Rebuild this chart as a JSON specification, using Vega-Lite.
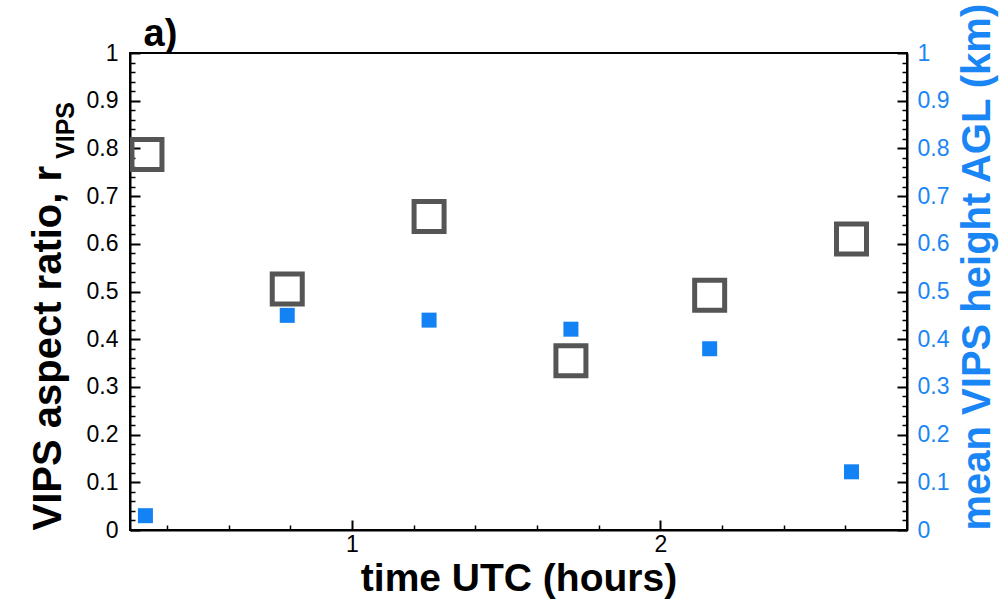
{
  "$schema": "https://vega.github.io/schema/vega-lite/v6.json",
  "width": 777,
  "height": 477,
  "autosize": {"type": "none"},
  "padding": {"left": 130, "top": 53, "right": 100, "bottom": 71},
  "background": "white",
  "config": {
    "font": "Liberation Sans",
    "view": {"stroke": "black", "strokeWidth": 2},
    "axis": {
      "grid": false,
      "domainColor": "black",
      "domainWidth": 2,
      "tickColor": "black",
      "labelColor": "black",
      "labelFont": "Liberation Sans",
      "titleFont": "Liberation Sans",
      "labelFlush": false,
      "labelOverlap": false
    }
  },
  "datasets": {
    "ratio": [
      {"time": 0.335, "ratio": 0.787},
      {"time": 0.79, "ratio": 0.505},
      {"time": 1.25, "ratio": 0.657},
      {"time": 1.71, "ratio": 0.355},
      {"time": 2.16, "ratio": 0.492},
      {"time": 2.62, "ratio": 0.61}
    ],
    "height": [
      {"time": 0.33, "height": 0.03},
      {"time": 0.79, "height": 0.45},
      {"time": 1.25, "height": 0.44},
      {"time": 1.71, "height": 0.421},
      {"time": 2.16, "height": 0.38},
      {"time": 2.62, "height": 0.122}
    ]
  },
  "layer": [
    {
      "data": {"name": "ratio"},
      "mark": {"type": "point", "opacity": 0},
      "encoding": {
        "x": {
          "field": "time", "type": "quantitative",
          "scale": {"domain": [0.28, 2.8], "nice": false, "zero": false},
          "axis": {
            "orient": "bottom",
            "values": [0.4, 0.6, 0.8, 1.2, 1.4, 1.6, 1.8, 2.2, 2.4, 2.6],
            "tickSize": -5, "tickWidth": 1.5, "labels": false, "domain": false, "title": null
          }
        },
        "y": {
          "field": "ratio", "type": "quantitative",
          "scale": {"domain": [0, 1], "nice": false, "zero": false},
          "axis": {
            "orient": "left",
            "values": [0.02,0.04,0.06,0.08,0.12,0.14,0.16,0.18,0.22,0.24,0.26,0.28,0.32,0.34,0.36,0.38,0.42,0.44,0.46,0.48,0.52,0.54,0.56,0.58,0.62,0.64,0.66,0.68,0.72,0.74,0.76,0.78,0.82,0.84,0.86,0.88,0.92,0.94,0.96,0.98],
            "tickSize": -5, "tickWidth": 1.5, "labels": false, "domain": false,
            "title": "VIPS", "titleFontSize": 25, "titleFontWeight": "bold", "titleColor": "black",
            "titleAngle": -90, "titleX": -57, "titleY": 77, "titleAlign": "center", "titleBaseline": "alphabetic"
          }
        }
      }
    },
    {
      "data": {"name": "height"},
      "mark": {"type": "point", "opacity": 0},
      "encoding": {
        "x": {
          "field": "time", "type": "quantitative",
          "scale": {"domain": [0.28, 2.8], "nice": false, "zero": false},
          "axis": {
            "orient": "top", "ticks": false, "labels": false, "domain": false,
            "title": "a)", "titleFontSize": 38, "titleFontWeight": "bold", "titleColor": "black",
            "titleX": 13, "titleY": -8, "titleAlign": "left", "titleBaseline": "alphabetic", "titleAngle": 0
          }
        },
        "y": {
          "field": "height", "type": "quantitative",
          "scale": {"domain": [0, 1], "nice": false, "zero": false},
          "axis": {
            "orient": "right",
            "values": [0.02,0.04,0.06,0.08,0.12,0.14,0.16,0.18,0.22,0.24,0.26,0.28,0.32,0.34,0.36,0.38,0.42,0.44,0.46,0.48,0.52,0.54,0.56,0.58,0.62,0.64,0.66,0.68,0.72,0.74,0.76,0.78,0.82,0.84,0.86,0.88,0.92,0.94,0.96,0.98],
            "tickSize": -5, "tickWidth": 1.5, "labels": false, "domain": false, "title": null
          }
        }
      }
    },
    {
      "data": {"name": "ratio"},
      "mark": {"type": "square", "filled": false, "color": "#555555", "strokeWidth": 5, "size": 900, "clip": true, "opacity": 1},
      "encoding": {
        "x": {
          "field": "time", "type": "quantitative",
          "scale": {"domain": [0.28, 2.8], "nice": false, "zero": false},
          "axis": {
            "orient": "bottom", "values": [1, 2], "tickSize": -10, "tickWidth": 2,
            "labelPadding": 13, "labelFontSize": 23, "format": "~g",
            "title": "time UTC (hours)", "titleFontSize": 39, "titleFontWeight": "bold", "titleColor": "black", "titlePadding": 3
          }
        },
        "y": {
          "field": "ratio", "type": "quantitative",
          "scale": {"domain": [0, 1], "nice": false, "zero": false},
          "axis": {
            "orient": "left", "values": [0, 0.1, 0.2, 0.3, 0.4, 0.5, 0.6, 0.7, 0.8, 0.9, 1],
            "tickSize": -10, "tickWidth": 2, "labelPadding": 22, "labelFontSize": 23, "format": "~g",
            "title": "VIPS aspect ratio, r", "titleFontSize": 40, "titleFontWeight": "bold", "titleColor": "black",
            "titleAnchor": "start", "titlePadding": 18
          }
        }
      }
    },
    {
      "data": {"name": "height"},
      "mark": {"type": "square", "filled": true, "color": "#1282f5", "size": 225, "opacity": 1, "clip": true},
      "encoding": {
        "x": {
          "field": "time", "type": "quantitative",
          "scale": {"domain": [0.28, 2.8], "nice": false, "zero": false},
          "axis": null
        },
        "y": {
          "field": "height", "type": "quantitative",
          "scale": {"domain": [0, 1], "nice": false, "zero": false},
          "axis": {
            "orient": "right", "values": [0, 0.1, 0.2, 0.3, 0.4, 0.5, 0.6, 0.7, 0.8, 0.9, 1],
            "tickSize": -10, "tickWidth": 2, "labelPadding": 20, "labelFontSize": 23, "format": "~g",
            "labelColor": "#1a86f5", "domainColor": "black", "tickColor": "black",
            "title": "mean VIPS height AGL (km)", "titleFontSize": 40, "titleFontWeight": "bold", "titleColor": "#1a86f5",
            "titleAngle": -90, "titleAnchor": "start", "titleBaseline": "top", "titlePadding": 9
          }
        }
      }
    }
  ],
  "resolve": {"scale": {"x": "independent", "y": "independent"}}
}
